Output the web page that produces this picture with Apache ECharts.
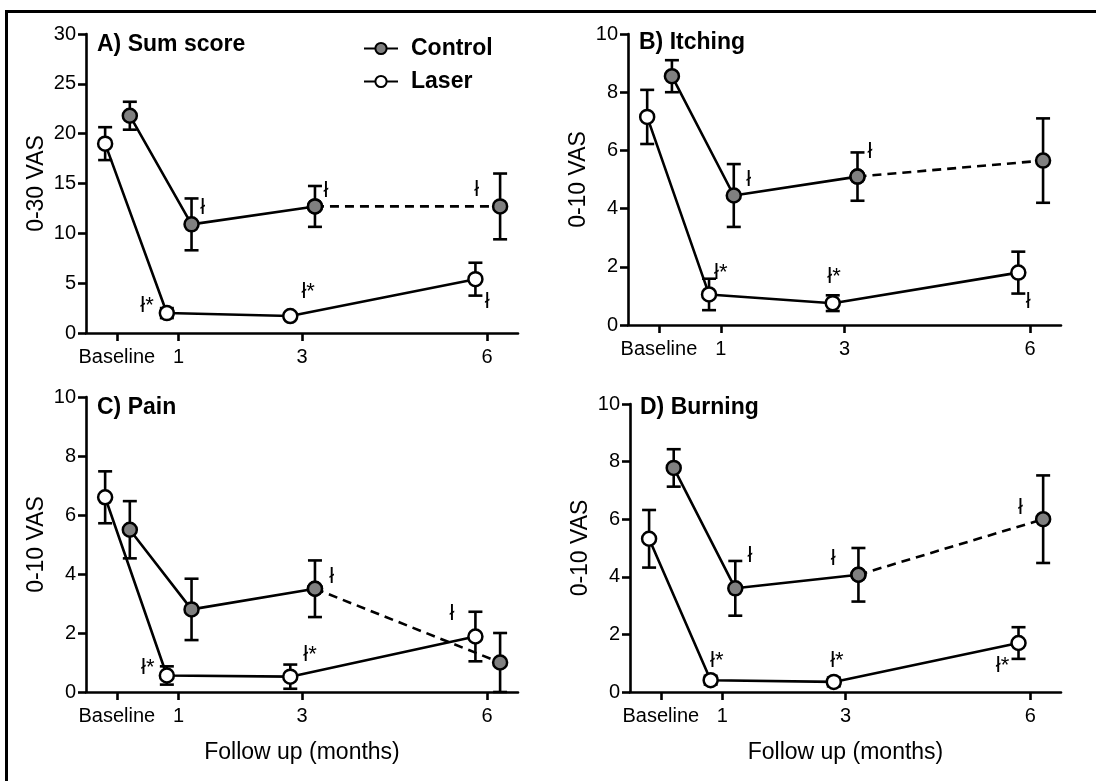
<!DOCTYPE html>
<html>
<head>
<meta charset="utf-8">
<script src="https://cdn.jsdelivr.net/npm/echarts@6/dist/echarts.min.js"></script>
<style>
html,body{margin:0;padding:0;background:#fff;}
#chart{width:1096px;height:781px;}
</style>
</head>
<body>
<div id="chart"></div>
<script>
// ---------------- DATA ----------------
const months = [0, 1, 3, 6];
const tickLabels = ['Baseline', '1', '3', '6'];
const panelTitles = ['A) Sum score', 'B) Itching', 'C) Pain', 'D) Burning'];
const yNames = ['0-30 VAS', '0-10 VAS', '0-10 VAS', '0-10 VAS'];
const yMax = [30, 10, 10, 10];
const yStep = [5, 2, 2, 2];

const controlA = [21.8, 10.9, 12.7, 12.7];
const controlErrA = [1.4, 2.6, 2.05, 3.3];
const laserA = [19.0, 2.0, 1.7, 5.4];
const laserErrA = [1.65, 0.5, 0.3, 1.65];

const controlB = [8.55, 4.45, 5.1, 5.65];
const controlErrB = [0.55, 1.08, 0.83, 1.45];
const laserB = [7.15, 1.05, 0.75, 1.8];
const laserErrB = [0.93, 0.54, 0.27, 0.72];

const controlC = [5.5, 2.8, 3.5, 1.0];
const controlErrC = [0.97, 1.04, 0.96, 1.0];
const laserC = [6.6, 0.56, 0.52, 1.88];
const laserErrC = [0.88, 0.31, 0.41, 0.84];

const controlD = [7.78, 3.6, 4.07, 6.0];
const controlErrD = [0.65, 0.95, 0.93, 1.52];
const laserD = [5.32, 0.41, 0.35, 1.7];
const laserErrD = [1.0, 0.15, 0.15, 0.55];

// significance markers: [month, value, text]
const annotA = [[1.39, 12.5, 'ł'], [3.39, 14.3, 'ł'], [5.83, 14.4, 'ł'], [0.49, 2.7, 'ł*'], [3.1, 4.1, 'ł*'], [6.0, 3.1, 'ł']];
const annotB = [[1.45, 5.0, 'ł'], [3.41, 5.95, 'ł'], [1.0, 1.8, 'ł*'], [2.83, 1.65, 'ł*'], [5.97, 0.8, 'ł']];
const annotC = [[3.48, 3.89, 'ł'], [5.43, 2.63, 'ł'], [0.5, 0.81, 'ł*'], [3.13, 1.25, 'ł*']];
const annotD = [[1.45, 4.72, 'ł'], [2.8, 4.62, 'ł'], [5.84, 6.39, 'ł'], [0.91, 1.08, 'ł*'], [2.86, 1.08, 'ł*'], [5.55, 0.9, 'ł*']];

// ---------------- LAYOUT ----------------
const FONT = 'Liberation Sans, Arial, Helvetica, sans-serif';
const CTRL_OFF = 0.21, LASER_OFF = -0.19;
const grids = [
  {left: 86, top: 34, width: 432, height: 299},
  {left: 628, top: 34, width: 433, height: 291},
  {left: 86, top: 397, width: 432, height: 295},
  {left: 630, top: 404, width: 431, height: 288}
];
const titlePos = [[97, 33], [639, 31], [97, 396], [640, 396]];

const panels = [
  {c: controlA, ce: controlErrA, l: laserA, le: laserErrA, an: annotA},
  {c: controlB, ce: controlErrB, l: laserB, le: laserErrB, an: annotB},
  {c: controlC, ce: controlErrC, l: laserC, le: laserErrC, an: annotC},
  {c: controlD, ce: controlErrD, l: laserD, le: laserErrD, an: annotD}
];

const xAxes = [], yAxes = [], series = [], titles = [];
const annTexts = {};

function errRender(params, api) {
  const x = api.value(0), y = api.value(1), e = api.value(2);
  const top = api.coord([x, y + e]);
  const bot = api.coord([x, Math.max(y - e, 0)]);
  const hw = 7;
  const st = {stroke: '#000', lineWidth: 2.6};
  return {type: 'group', children: [
    {type: 'line', shape: {x1: top[0], y1: top[1], x2: bot[0], y2: bot[1]}, style: st},
    {type: 'line', shape: {x1: top[0] - hw, y1: top[1], x2: top[0] + hw, y2: top[1]}, style: st},
    {type: 'line', shape: {x1: bot[0] - hw, y1: bot[1], x2: bot[0] + hw, y2: bot[1]}, style: st}
  ]};
}
function annRender(params, api) {
  const p = api.coord([api.value(0), api.value(1)]);
  return {type: 'text', x: p[0], y: p[1], style: {
    text: annTexts[params.seriesId][params.dataIndex],
    fill: '#000', font: '22px ' + FONT, align: 'center', verticalAlign: 'middle'}};
}

panels.forEach((p, k) => {
  xAxes.push({
    gridIndex: k, type: 'value', min: -0.5, max: 6.5,
    name: k >= 2 ? 'Follow up (months)' : '',
    nameLocation: 'middle', nameGap: 49,
    nameTextStyle: {fontSize: 23, color: '#000', fontFamily: FONT},
    axisLine: {show: true, onZero: false, lineStyle: {color: '#000', width: 2.6}},
    axisTick: {show: true, length: 8, customValues: months, lineStyle: {color: '#000', width: 2.6}},
    axisLabel: {show: true, customValues: months, margin: 14, fontSize: 20, color: '#000', fontFamily: FONT,
      formatter: v => tickLabels[months.indexOf(v)]},
    splitLine: {show: false}
  });
  yAxes.push({
    gridIndex: k, type: 'value', min: 0, max: yMax[k], interval: yStep[k],
    name: yNames[k], nameLocation: 'middle', nameGap: 38,
    nameTextStyle: {fontSize: 23, color: '#000', fontFamily: FONT},
    axisLine: {show: true, onZero: false, lineStyle: {color: '#000', width: 2.6}},
    axisTick: {show: true, length: 8, lineStyle: {color: '#000', width: 2.6}},
    axisLabel: {margin: 10, fontSize: 20, color: '#000', fontFamily: FONT},
    splitLine: {show: false}
  });
  titles.push({text: panelTitles[k], left: titlePos[k][0], top: titlePos[k][1], padding: 0,
    textStyle: {fontSize: 23, fontWeight: 'bold', color: '#000', fontFamily: FONT}});

  const cPts = months.map((m, i) => [m + CTRL_OFF, p.c[i]]);
  const lPts = months.map((m, i) => [m + LASER_OFF, p.l[i]]);
  const cErr = months.map((m, i) => [m + CTRL_OFF, p.c[i], p.ce[i]]);
  const lErr = months.map((m, i) => [m + LASER_OFF, p.l[i], p.le[i]]);

  series.push({type: 'custom', xAxisIndex: k, yAxisIndex: k, renderItem: errRender, data: cErr, z: 2, silent: true});
  series.push({type: 'custom', xAxisIndex: k, yAxisIndex: k, renderItem: errRender, data: lErr, z: 2, silent: true});

  const mk = (name, data, fill, dashed) => ({
    type: 'line', name: name, xAxisIndex: k, yAxisIndex: k, data: data,
    symbol: 'circle', symbolSize: 14, z: 3,
    itemStyle: {color: fill, borderColor: '#000', borderWidth: 2.5},
    lineStyle: {color: '#000', width: 2.6, type: dashed ? [9, 6] : 'solid'},
    emphasis: {disabled: true}, animation: false
  });
  series.push(mk('Laser', lPts, '#ffffff', false));
  series.push(mk('Control', cPts.slice(0, 3), '#808080', false));
  series.push(mk('Control', cPts.slice(2), '#808080', true));

  const id = 'ann' + k;
  annTexts[id] = p.an.map(a => a[2]);
  series.push({type: 'custom', id: id, xAxisIndex: k, yAxisIndex: k, z: 4, silent: true,
    data: p.an.map(a => [a[0], a[1]]), renderItem: annRender});
});

const chart = echarts.init(document.getElementById('chart'), null, {renderer: 'canvas'});
chart.setOption({
  animation: false,
  backgroundColor: '#fff',
  textStyle: {fontFamily: FONT},
  title: titles,
  grid: grids,
  xAxis: xAxes,
  yAxis: yAxes,
  legend: {
    data: ['Control', 'Laser'], orient: 'vertical', left: 358, top: 32,
    itemWidth: 34, itemHeight: 14, itemGap: 10, selectedMode: false,
    textStyle: {fontSize: 23, fontWeight: 'bold', color: '#000', fontFamily: FONT, padding: [0, 0, 0, 8]}
  },
  series: series,
  graphic: [{type: 'rect', shape: {x: 6.5, y: 11.5, width: 1200, height: 900},
    style: {fill: 'none', stroke: '#000', lineWidth: 3}, silent: true}]
});
</script>
</body>
</html>
